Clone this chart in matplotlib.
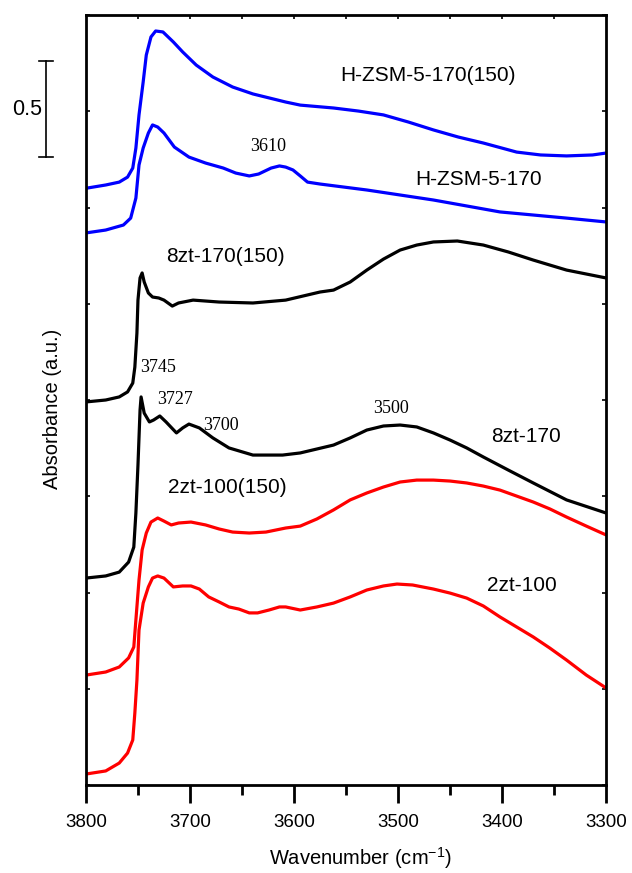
import matplotlib
matplotlib.use("Agg")
import matplotlib.pyplot as plt

plt.rcParams["mathtext.fontset"] = "custom"
plt.rcParams["mathtext.rm"] = "Liberation Sans"

# ---- datos (numero de onda en cm-1, absorbancia) ----
wn_hzsm_150 = [3800, 3781, 3768, 3760, 3755, 3752, 3749, 3745, 3742, 3737.5, 3733, 3726, 3716,
               3707, 3694, 3678, 3659, 3639.5, 3620, 3608, 3594, 3562, 3538, 3514, 3490, 3466,
               3442, 3418, 3386, 3363, 3338, 3313, 3300]
abs_hzsm_150 = [3.100, 3.117, 3.132, 3.158, 3.205, 3.309, 3.481, 3.652, 3.792, 3.886, 3.917, 3.912, 3.860,
                3.808, 3.740, 3.678, 3.626, 3.590, 3.564, 3.548, 3.532, 3.517, 3.501, 3.481, 3.444, 3.403,
                3.366, 3.335, 3.288, 3.273, 3.268, 3.273, 3.283]

wn_hzsm = [3800, 3781, 3764, 3757, 3752, 3749, 3745, 3740, 3736, 3731, 3725, 3715, 3701, 3685,
           3668, 3656, 3643, 3634, 3622, 3614, 3608, 3601, 3594, 3587, 3575, 3530, 3466, 3402,
           3338, 3300]
abs_hzsm = [2.868, 2.883, 2.909, 2.945, 3.049, 3.221, 3.309, 3.387, 3.429, 3.418, 3.387, 3.314, 3.262, 3.231,
            3.205, 3.179, 3.164, 3.174, 3.205, 3.216, 3.210, 3.195, 3.164, 3.132, 3.122, 3.091, 3.039, 2.977,
            2.945, 2.925]

wn_8zt_150 = [3800, 3781, 3768, 3760, 3755, 3753, 3751, 3750, 3748, 3746, 3744, 3740, 3736, 3730,
              3725, 3717, 3711, 3697, 3672, 3639.5, 3608, 3575, 3562, 3546, 3530, 3514, 3498, 3482,
              3466, 3443, 3418, 3394, 3370, 3338, 3300]
abs_8zt_150 = [1.990, 2.000, 2.016, 2.042, 2.088, 2.171, 2.348, 2.519, 2.634, 2.660, 2.613, 2.556, 2.535, 2.530,
               2.519, 2.488, 2.504, 2.519, 2.509, 2.504, 2.519, 2.561, 2.571, 2.613, 2.675, 2.732, 2.779, 2.805,
               2.821, 2.826, 2.805, 2.769, 2.727, 2.675, 2.634]

wn_8zt = [3800, 3781, 3768, 3759, 3754, 3752, 3750, 3748, 3747, 3744, 3739, 3735, 3729, 3723,
          3713, 3707, 3701, 3691, 3678, 3662.5, 3639.5, 3611, 3594, 3562, 3546, 3530, 3514, 3498,
          3482, 3466, 3450, 3434, 3418, 3394, 3370, 3338, 3300]
abs_8zt = [1.075, 1.086, 1.106, 1.158, 1.236, 1.413, 1.662, 1.948, 2.016, 1.932, 1.886, 1.896, 1.917, 1.886,
           1.829, 1.855, 1.875, 1.855, 1.803, 1.751, 1.714, 1.714, 1.725, 1.766, 1.803, 1.844, 1.865, 1.870,
           1.860, 1.829, 1.792, 1.751, 1.704, 1.636, 1.569, 1.481, 1.413]

wn_2zt_150 = [3800, 3781, 3768, 3759, 3754, 3752, 3749, 3746, 3742, 3737.5, 3731, 3725, 3718, 3711,
              3699, 3685, 3672, 3659, 3643, 3627, 3608, 3594, 3578, 3562, 3546, 3530, 3514, 3498,
              3482, 3466, 3450, 3434, 3418, 3402, 3386, 3370, 3354, 3338, 3319, 3300]
abs_2zt_150 = [0.571, 0.587, 0.613, 0.660, 0.717, 0.857, 1.065, 1.221, 1.309, 1.366, 1.387, 1.371, 1.351, 1.361,
               1.366, 1.351, 1.330, 1.314, 1.309, 1.314, 1.335, 1.345, 1.382, 1.429, 1.481, 1.517, 1.548, 1.574,
               1.584, 1.584, 1.579, 1.569, 1.553, 1.532, 1.501, 1.470, 1.434, 1.392, 1.345, 1.299]

wn_2zt = [3800, 3781, 3768, 3760, 3755, 3753, 3751, 3749, 3745, 3740, 3736, 3731, 3725, 3716,
          3707, 3699, 3691, 3682, 3672, 3662.5, 3653, 3643, 3635, 3624, 3614, 3608, 3594, 3578,
          3562, 3546, 3530, 3514, 3501, 3486, 3466, 3450, 3434, 3418, 3402, 3386, 3370, 3354,
          3338, 3319, 3300]
abs_2zt = [0.057, 0.073, 0.114, 0.166, 0.234, 0.374, 0.545, 0.805, 0.945, 1.029, 1.075, 1.086, 1.075, 1.029,
           1.034, 1.034, 1.018, 0.977, 0.951, 0.925, 0.914, 0.894, 0.894, 0.909, 0.925, 0.925, 0.909, 0.925,
           0.945, 0.977, 1.013, 1.034, 1.044, 1.039, 1.018, 0.997, 0.971, 0.930, 0.873, 0.821, 0.769, 0.711,
           0.649, 0.571, 0.504]

series = [
    (wn_hzsm_150, abs_hzsm_150, "#0000ff"),
    (wn_hzsm, abs_hzsm, "#0000ff"),
    (wn_8zt_150, abs_8zt_150, "black"),
    (wn_8zt, abs_8zt, "black"),
    (wn_2zt_150, abs_2zt_150, "#ff0000"),
    (wn_2zt, abs_2zt, "#ff0000"),
]

# etiquetas de muestras (texto, x, y)
etiquetas = [
    ("H-ZSM-5-170(150)", 3471, 3.688),
    ("H-ZSM-5-170", 3423, 3.143),
    ("8zt-170(150)", 3666, 2.743),
    ("8zt-170", 3377, 1.813),
    ("2zt-100(150)", 3664, 1.543),
    ("2zt-100", 3381, 1.034),
]
# posiciones de picos
picos = [
    ("3610", 3625, 3.319, "center"),
    ("3745", 3748, 2.171, "left"),
    ("3727", 3714, 2.005, "center"),
    ("3700", 3670, 1.870, "center"),
    ("3500", 3507, 1.958, "center"),
]

fig = plt.figure(figsize=(6.32, 8.73), dpi=100)
ax = fig.add_axes([0.136, 0.1008, 0.823, 0.882])

for x, y, c in series:
    ax.plot(x, y, color=c, lw=2.3, solid_joinstyle="round", solid_capstyle="round")

sans = "Liberation Sans"
serif = "Liberation Serif"
for txt, x, y in etiquetas:
    ax.text(x, y, txt, ha="center", va="center", fontsize=15, family=sans)
for txt, x, y, ha in picos:
    ax.text(x, y, txt, ha=ha, va="center", fontsize=13, family=serif)

# barra de escala 0.5
ax.plot([3838.5, 3838.5], [3.26, 3.76], color="black", lw=1.2, clip_on=False)
ax.plot([3845, 3832], [3.26, 3.26], color="black", lw=1.2, clip_on=False)
ax.plot([3845, 3832], [3.76, 3.76], color="black", lw=1.2, clip_on=False)
ax.text(3857, 3.51, "0.5", ha="center", va="center", fontsize=15.5, family=sans)

ax.set_xlim(3800, 3300)
ax.set_ylim(0, 4)
ax.set_xticks([3800, 3700, 3600, 3500, 3400, 3300])
ax.set_xticks([3750, 3650, 3550, 3450, 3350], minor=True)
ax.set_yticks([0.5 * i for i in range(9)])
ax.set_yticklabels([])
for lbl in ax.get_xticklabels():
    lbl.set_family(sans)
    lbl.set_fontsize(13.5)
ax.tick_params(axis="x", which="major", direction="out", length=13, width=2, pad=8)
ax.tick_params(axis="x", which="minor", direction="out", length=7, width=2)
ax.tick_params(axis="y", direction="in", length=3, width=1.2, left=True, right=True)
for s in ax.spines.values():
    s.set_linewidth(2)

top = ax.secondary_xaxis("top")
top.set_xticks([3750, 3700, 3650, 3600, 3550, 3500, 3450, 3400, 3350])
top.tick_params(direction="in", length=3, width=1.2, labeltop=False)

fig.text(360 / 632, 1 - 858 / 873, "Wavenumber (cm$^{\\mathregular{\u22121}}$)", ha="center", va="center",
         fontsize=14.5, family=sans)
fig.text(53 / 632, 1 - 409 / 873, "Absorbance (a.u.)", rotation=90, ha="center", va="center",
         fontsize=14.5, family=sans)

fig.savefig("out.png", dpi=100)
